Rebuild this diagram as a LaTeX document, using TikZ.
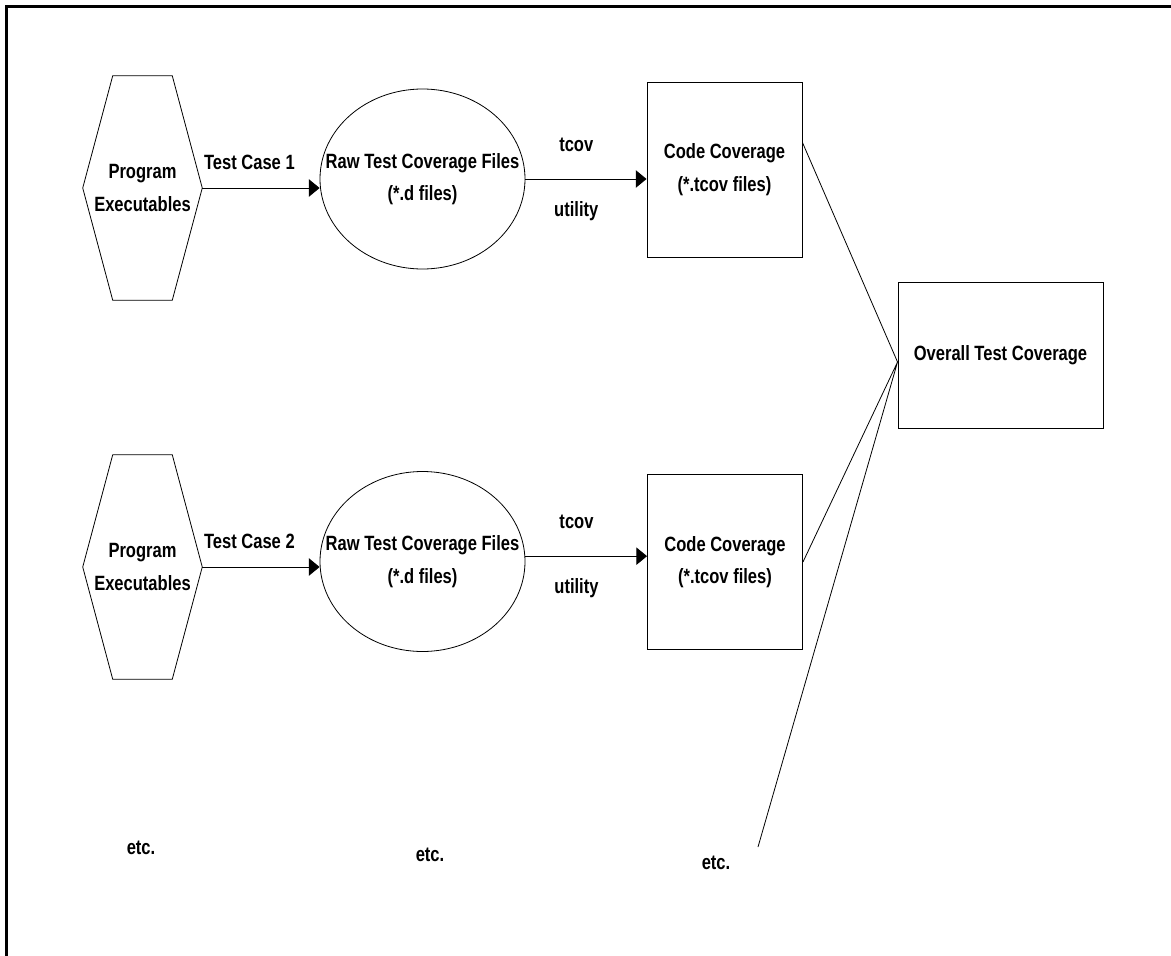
\documentclass[tikz,border=0pt]{standalone}
\usepackage{fontspec}
\setmainfont{Liberation Sans}[FakeStretch=0.8]
\usetikzlibrary{shapes.geometric,arrows.meta,positioning}

\tikzset{
  lbl/.style={font=\bfseries\fontsize{15.5}{24.4}\selectfont, align=center},
  hexa/.style={lbl, minimum width=89.25pt, minimum height=168pt, inner sep=0pt},
  rawfile/.style={draw, ellipse, minimum width=153.75pt, minimum height=135pt, line width=0.6pt},
  covbox/.style={lbl, draw, rectangle, minimum width=116.25pt, minimum height=131.25pt, line width=0.7pt},
  flow/.style={-{Triangle[length=8pt,width=13pt]}, line width=0.7pt},
}

\begin{document}
\begin{tikzpicture}[x=0.75pt,y=-0.75pt]
  \useasboundingbox (0,0) rectangle (1171,956);
  % frame
  \draw[line width=2.25pt] (6.5,956) -- (6.5,6.5) -- (1171,6.5);

  % test case 1
  \node[hexa] (prog1) at (142.5,188) {Program\\Executables};
  \node[rawfile, label={[lbl]center:Raw Test Coverage Files\\(*.d files)}] (raw1) at (422.5,179) {};
  \node[covbox] (code1) at (724.5,169.5) {Code Coverage\\(*.tcov files)};

  % test case 2
  \node[hexa] (prog2) at (142.5,567) {Program\\Executables};
  \node[rawfile, label={[lbl]center:Raw Test Coverage Files\\(*.d files)}] (raw2) at (422.5,561.5) {};
  \node[covbox] (code2) at (725,562) {Code Coverage\\(*.tcov files)};

  \node[covbox, minimum width=153.75pt, minimum height=109.5pt] (overall) at (1000.5,355) {Overall Test Coverage};

  \foreach \p in {prog1,prog2}
    \draw[line width=0.6pt] (\p.west) -- ([xshift=22.5pt]\p.north west) -- ([xshift=-22.5pt]\p.north east)
      -- (\p.east) -- ([xshift=-22.5pt]\p.south east) -- ([xshift=22.5pt]\p.south west) -- cycle;

  \draw[flow] (prog1.east) -- (prog1.east -| raw1.west)
    node[lbl, pos=0, anchor=base west, inner sep=1pt, yshift=14pt] {Test Case 1};
  \draw[flow] (prog2.east) -- (prog2.east -| raw2.west)
    node[lbl, pos=0, anchor=base west, inner sep=1pt, yshift=14pt] {Test Case 2};

  \draw[flow] (raw1.east) -- (raw1.east -| code1.west)
    node[lbl, pos=0.42, anchor=base, yshift=20.5pt] {tcov}
    node[lbl, pos=0.42, anchor=base, yshift=-28pt] {utility};
  \draw[flow] ([yshift=4pt]raw2.east) -- ([yshift=4pt]raw2.east -| code2.west)
    node[lbl, pos=0.42, anchor=base, yshift=20.5pt] {tcov}
    node[lbl, pos=0.42, anchor=base, yshift=-28pt] {utility};

  % merging into the overall coverage
  \coordinate (join) at ([yshift=-5.25pt]overall.west);
  \coordinate (etcend) at (758,847);
  \draw[line width=0.6pt] ([yshift=-45.75pt]code1.north east) -- (join);
  \draw[line width=0.6pt] (code2.east) -- (join) -- (etcend);

  \node[lbl] (etc1) at (141,848) {etc.};
  \node[lbl] (etc2) at (430,855) {etc.};
  \node[lbl] (etc3) at (716,863) {etc.};
\end{tikzpicture}
\end{document}
